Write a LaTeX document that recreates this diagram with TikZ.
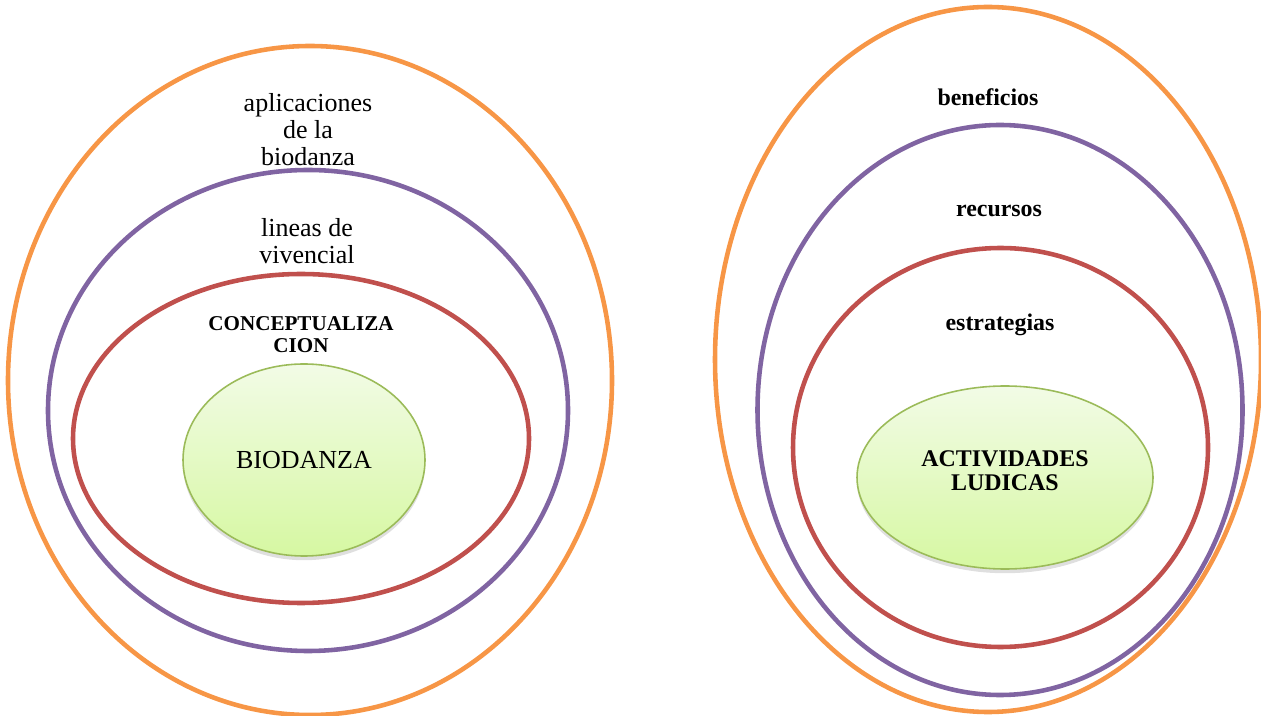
\documentclass[tikz,border=0pt]{standalone}
\usepackage{fontspec}
\setmainfont{Liberation Serif}
\usetikzlibrary{shapes.geometric,shadows}
\definecolor{ringorange}{HTML}{F79646}
\definecolor{ringpurple}{HTML}{8064A2}
\definecolor{ringred}{HTML}{C0504D}
\definecolor{coreline}{HTML}{9BBB59}
\definecolor{coretop}{HTML}{F2FBE6}
\definecolor{corebottom}{HTML}{D6F8A2}
\tikzset{
  ring/.style={ellipse, draw, line width=1.3pt, inner sep=0pt},
  core/.style={ellipse, draw=coreline, line width=0.45pt, inner sep=0pt, top color=coretop, bottom color=corebottom,
    drop shadow={shadow xshift=0pt, shadow yshift=-1.2pt, opacity=0.25}},
  lbl/.style={align=center, font=\fontsize{7.4}{7.7}\selectfont},
  blbl/.style={align=center, font=\fontsize{6.8}{6.85}\selectfont\bfseries}
}
\begin{document}
\begin{tikzpicture}[x=0.1mm,y=-0.1mm]
  \useasboundingbox (0,0) rectangle (1261,716);

  \node[ring, draw=ringorange, minimum width=60.4mm, minimum height=66.9mm] (aplic) at (310,380.5) {};
  \node[ring, draw=ringpurple, minimum width=52.0mm, minimum height=48.1mm] (lineas) at (308,410.5) {};
  \node[ring, draw=ringred, minimum width=45.6mm, minimum height=32.9mm] (concep) at (301,438.5) {};
  \node[core, minimum width=24.2mm, minimum height=19.2mm, font=\fontsize{7.4}{7.7}\selectfont] (bio) at (304,460) {BIODANZA};
  \node[lbl] (aplictxt) at (308,130) {aplicaciones\\de la\\biodanza};
  \node[lbl] (lineastxt) at (307,241.5) {lineas de\\vivencial};
  \node[align=center, font=\fontsize{6.0}{6.3}\selectfont\bfseries] (conceptxt) at (301,335) {CONCEPTUALIZA\\CION};

  \node[ring, draw=ringorange, minimum width=54.6mm, minimum height=70.5mm] (benef) at (988,359.5) {};
  \node[ring, draw=ringpurple, minimum width=48.5mm, minimum height=57.0mm] (recur) at (1000,410) {};
  \node[ring, draw=ringred, minimum width=41.5mm, minimum height=39.9mm] (estra) at (1000.5,447.5) {};
  \node[core, minimum width=29.6mm, minimum height=18.3mm] (activ) at (1005,477.5) {};
  \node[blbl] (activtxt) at (1005,471) {ACTIVIDADES\\LUDICAS};
  \node[blbl] (beneftxt) at (988,97) {beneficios};
  \node[blbl] (recurtxt) at (999,211) {recursos};
  \node[blbl] (estratxt) at (1000,325) {estrategias};
\end{tikzpicture}
\end{document}
